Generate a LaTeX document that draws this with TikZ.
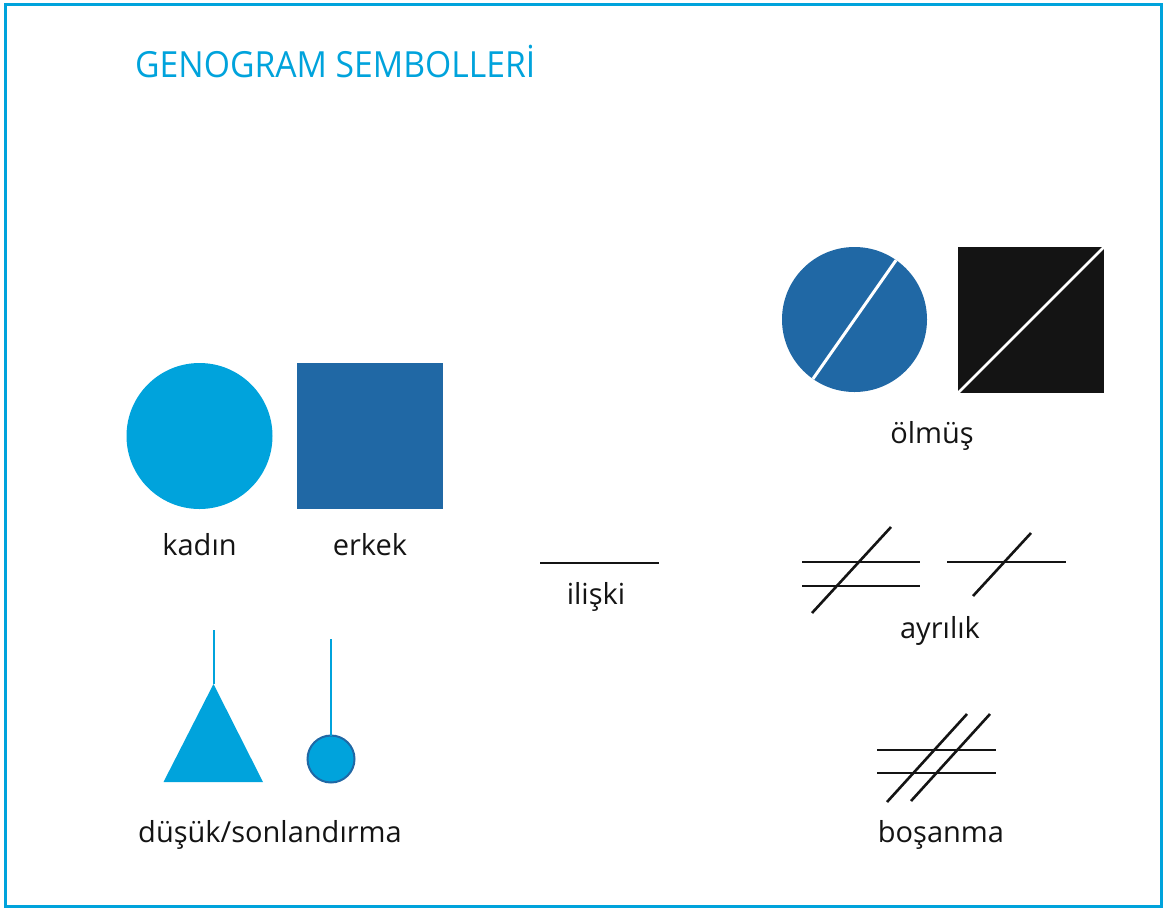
\documentclass[tikz,border=0pt]{standalone}
\usepackage{fontspec}
\setmainfont{Open Sans}
\usetikzlibrary{shapes.geometric}
\definecolor{gcyan}{HTML}{00A3DC}
\definecolor{gblue}{HTML}{2068A5}
\definecolor{gblack}{HTML}{141414}
\definecolor{gtext}{HTML}{141414}
\tikzset{
  lbl/.style={anchor=base, text=gtext, font=\fontsize{29}{34}\selectfont, inner sep=0},
  ttl/.style={anchor=base west, text=gcyan, font=\fontsize{36}{42}\selectfont, inner sep=0},
  rel/.style={draw=gblack, line width=2.6},
  blk/.style={inner sep=0, outer sep=0},
}
\begin{document}
\begin{tikzpicture}[x=1pt,y=-1pt]
\useasboundingbox (0,0) rectangle (1166,908);
\fill[white] (0,0) rectangle (1166,908);
\draw[gcyan, line width=3] (5.5,4) rectangle (1161,906.5);

\node[ttl] (title) at (135,77) {\scalebox{0.935}[1]{GENOGRAM SEMBOLLERİ}};

% kadin / erkek
\node[blk, circle, fill=gcyan, minimum size=146] (kadin) at (199.5,436) {};
\node[blk, rectangle, fill=gblue, minimum size=146] (erkek) at (370,436) {};
\node[lbl] (tkadin) at (199.5,555) {kadın};
\node[lbl] (terkek) at (370,555) {erkek};

% iliski
\coordinate (ia) at (540,563);
\coordinate (ib) at (659,563);
\draw[rel] (ia) -- (ib);
\node[lbl] (tiliski) at (596,604) {ilişki};

% olmus
\node[blk, circle, fill=gblue, minimum size=145] (oc) at (854.5,319.5) {};
\draw[white, line width=3] (oc.235.8) -- (oc.55.8);
\node[blk, rectangle, fill=gblack, minimum size=146] (os) at (1031,320) {};
\draw[white, line width=2.6] (os.south west) -- (os.north east);
\node[lbl] (tolmus) at (932,443) {ölmüş};

% ayrilik
\coordinate (a1a) at (802,562); \coordinate (a1b) at (920,562);
\coordinate (a2a) at (802,586); \coordinate (a2b) at (920,586);
\coordinate (a3a) at (812,613); \coordinate (a3b) at (891,527);
\draw[rel] (a1a) -- (a1b);
\draw[rel] (a2a) -- (a2b);
\draw[rel] (a3a) -- (a3b);
\coordinate (b1a) at (947,562); \coordinate (b1b) at (1066,562);
\coordinate (b2a) at (973,596); \coordinate (b2b) at (1031,533);
\draw[rel] (b1a) -- (b1b);
\draw[rel] (b2a) -- (b2b);
\node[lbl] (tayrilik) at (940,638) {ayrılık};

% bosanma
\coordinate (c1a) at (877,750); \coordinate (c1b) at (996,750);
\coordinate (c2a) at (877,773); \coordinate (c2b) at (996,773);
\coordinate (c3a) at (887,802); \coordinate (c3b) at (967,714);
\coordinate (c4a) at (911,801); \coordinate (c4b) at (990,714);
\draw[rel] (c1a) -- (c1b);
\draw[rel] (c2a) -- (c2b);
\draw[rel] (c3a) -- (c3b);
\draw[rel] (c4a) -- (c4b);
\node[lbl] (tbosanma) at (941,842) {boşanma};

% dusuk / sonlandirma
\coordinate (tritop) at (213.5,630);
\fill[gcyan] (213.5,684) coordinate (apex) -- (263,782) -- (163.5,782) -- cycle;
\draw[gcyan, line width=2] (tritop) -- (apex);
\node[blk, circle, fill=gcyan, draw=gblue, line width=2, minimum size=47] (sc) at (331,759) {};
\coordinate (sctop) at (331,639);
\draw[gcyan, line width=2] (sctop) -- (sc.north);
\node[lbl] (tdusuk) at (270,842) {düşük/sonlandırma};
\end{tikzpicture}
\end{document}
